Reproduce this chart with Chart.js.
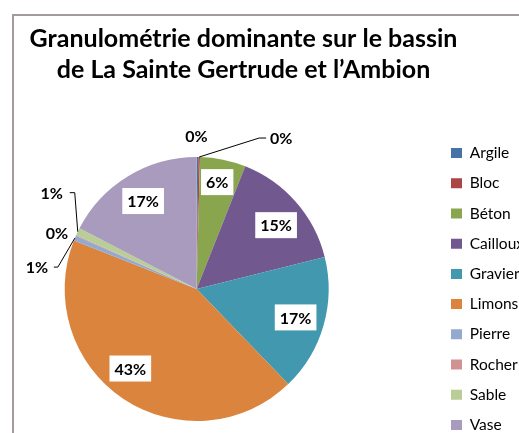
<!DOCTYPE html>
<html lang="fr">
<head>
<meta charset="UTF-8">
<title>Granulométrie dominante</title>
<script src="https://cdn.jsdelivr.net/npm/chart.js"></script>
<style>
  html, body { margin: 0; padding: 0; background: #fff; overflow: hidden; width: 519px; height: 433px; }
  #frame {
    position: absolute; left: 12px; top: 14px; width: 600px; height: 500px;
    border-left: 2px solid #a39a9d; border-top: 2px solid #a39a9d;
  }
  #wrap { position: absolute; left: -43px; top: 0; width: 600px; height: 460px; }
</style>
</head>
<body>
<div id="frame"></div>
<div id="wrap"><canvas id="pie" width="600" height="460"></canvas></div>
<script>
// data (percent of sites)
const categories = ['Argile', 'Bloc', 'Béton', 'Cailloux', 'Gravier', 'Limons', 'Pierre', 'Rocher', 'Sable', 'Vase'];
const shares = [0.2, 0.2, 5.6, 15.1, 16.7, 43.2, 0.6, 0.1, 0.9, 17.4];
const colors = ['#4572a7', '#aa4643', '#89a54e', '#71588f', '#4198af', '#db843d', '#93a9cf', '#d19392', '#b9cd96', '#a99bbd'];
const titleLines = ['Granulométrie dominante sur le bassin', 'de La Sainte Gertrude et l’Ambion'];

// label placement tweaks (pixels)
const insideNudge = { 2: [0, -6], 3: [2, 4], 5: [-9, -6] };
// small slices: label offset from slice edge, leader points relative to label
const outside = {
  0: { dx: -1, dy: -20, leader: [] },
  1: { dx: 82, dy: -18, leader: [[-22, -1], [-15, -1]] },
  6: { dx: -38, dy: 30, leader: [[21, -1], [17, -1]] },
  7: { dx: -19, dy: -2, leader: [] },
  8: { dx: -26, dy: -38, leader: [[23, -1], [18, -1]] }
};

const pctLabels = {
  id: 'pctLabels',
  afterDatasetsDraw(chart) {
    const ctx = chart.ctx;
    const meta = chart.getDatasetMeta(0);
    const vals = chart.data.datasets[0].data;
    const total = vals.reduce((a, b) => a + b, 0);
    ctx.save();
    ctx.font = 'bold 16px Lato';
    ctx.textAlign = 'center';
    ctx.textBaseline = 'middle';
    meta.data.forEach((arc, i) => {
      const p = arc.getProps(['x', 'y', 'startAngle', 'endAngle', 'outerRadius'], true);
      const mid = (p.startAngle + p.endAngle) / 2;
      const txt = Math.round(vals[i] / total * 100) + '%';
      const w = ctx.measureText(txt).width;
      if (outside[i]) {
        const o = outside[i];
        const ex = p.x + Math.cos(mid) * p.outerRadius;
        const ey = p.y + Math.sin(mid) * p.outerRadius;
        const lx = ex + o.dx, ly = ey + o.dy;
        if (o.leader.length) {
          ctx.strokeStyle = '#000';
          ctx.lineWidth = 1;
          ctx.beginPath();
          ctx.moveTo(ex, ey);
          o.leader.forEach(pt => ctx.lineTo(lx + pt[0], ly + pt[1]));
          ctx.stroke();
        }
        ctx.fillStyle = '#000';
        ctx.fillText(txt, lx, ly);
      } else {
        const n = insideNudge[i] || [0, 0];
        const r = p.outerRadius * 0.78;
        const lx = p.x + Math.cos(mid) * r + n[0];
        const ly = p.y + Math.sin(mid) * r + n[1];
        ctx.fillStyle = '#fff';
        ctx.fillRect(lx - w / 2 - 5, ly - 13, w + 10, 26);
        ctx.fillStyle = '#000';
        ctx.fillText(txt, lx, ly + 1);
      }
    });
    ctx.restore();
  }
};

new Chart(document.getElementById('pie'), {
  type: 'pie',
  data: {
    labels: categories,
    datasets: [{
      data: shares,
      backgroundColor: colors,
      borderWidth: 0,
      hoverOffset: 0,
      radius: 132
    }]
  },
  options: {
    responsive: false,
    animation: false,
    layout: { padding: { left: 0, right: 27, top: 0, bottom: 7 } },
    plugins: {
      title: {
        display: true,
        text: titleLines,
        color: '#000',
        font: { family: 'Lato', size: 25, weight: 'bold', lineHeight: 1.24 },
        padding: { top: 23, bottom: 40 }
      },
      legend: {
        position: 'right',
        fullSize: false,
        maxWidth: 93.7,
        labels: {
          boxWidth: 11,
          boxHeight: 10,
          padding: 14.7,
          color: '#000',
          font: { family: 'Lato', size: 15.5 }
        }
      },
      tooltip: { enabled: false }
    }
  },
  plugins: [pctLabels]
});
</script>
</body>
</html>
